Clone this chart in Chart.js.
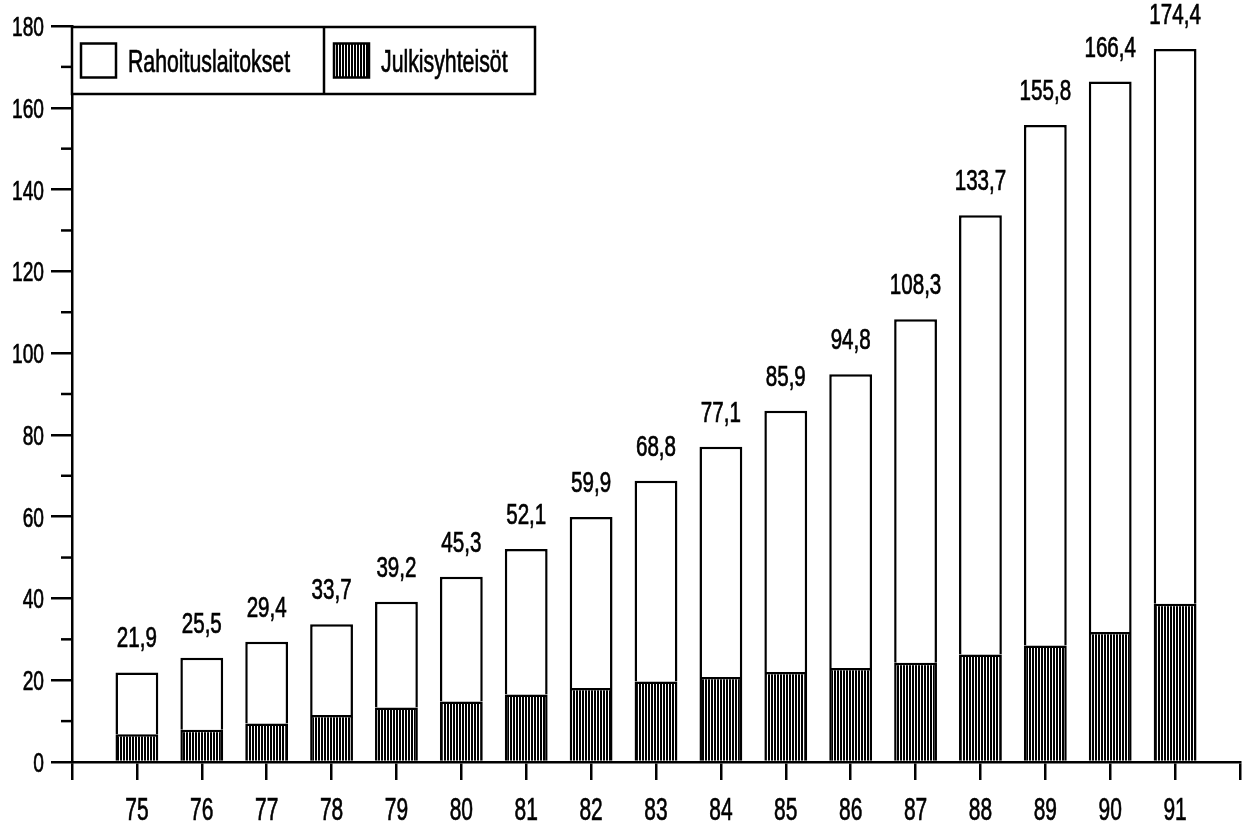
<!DOCTYPE html>
<html>
<head>
<meta charset="utf-8">
<script src="https://cdn.jsdelivr.net/npm/chart.js@4/dist/chart.umd.min.js"></script>
<style>
  body { margin: 0; background: #fff; }
  canvas { display: block; }
</style>
</head>
<body>
<canvas id="lainaChart" width="1243" height="827"></canvas>
<script>
const years = ["75", "76", "77", "78", "79", "80", "81", "82", "83", "84", "85", "86", "87", "88", "89", "90", "91"];
const totals = [21.9, 25.5, 29.4, 33.7, 39.2, 45.3, 52.1, 59.9, 68.8, 77.1, 85.9, 94.8, 108.3, 133.7, 155.8, 166.4, 174.4];
const julkisyhteisot = [6.8, 7.9, 9.4, 11.5, 13.3, 14.8, 16.5, 18.1, 19.7, 20.8, 22.0, 23.0, 24.3, 26.3, 28.5, 31.8, 38.7];
const rahoituslaitokset = [15.1, 17.6, 20.0, 22.2, 25.9, 30.5, 35.6, 41.8, 49.1, 56.3, 63.9, 71.8, 84.0, 107.4, 127.3, 134.6, 135.7];

const FONT = "'Liberation Sans', Arial, sans-serif";

// empty slots at both ends so the axis runs from "74" to "92"
const labels = [""].concat(years, [""]);
const pad = (arr) => [null].concat(arr, [null]);

// the original uses a tall condensed face, so squeeze normal text sideways
function condensedText(c, text, x, y, size, squeeze, align) {
  c.save();
  c.font = size + "px " + FONT;
  c.fillStyle = "#000";
  c.strokeStyle = "#000";
  c.lineWidth = 0.7;
  c.textAlign = align;
  c.textBaseline = "alphabetic";
  c.translate(x, y);
  c.scale(squeeze, 1);
  c.fillText(text, 0, 0);
  c.strokeText(text, 0, 0);
  c.restore();
}

// vertical hatch used for Julkisyhteisöt
function makeHatch() {
  const c = document.createElement("canvas");
  c.width = 3;
  c.height = 4;
  const g = c.getContext("2d");
  g.fillStyle = "#fff";
  g.fillRect(0, 0, 3, 4);
  g.fillStyle = "#000";
  g.fillRect(0, 0, 2, 4);
  return g.createPattern(c, "repeat");
}

const ctx = document.getElementById("lainaChart").getContext("2d");
const hatch = makeHatch();

const whiteBg = {
  id: "whiteBg",
  beforeDraw(chart) {
    const c = chart.ctx;
    c.save();
    c.fillStyle = "#fff";
    c.fillRect(0, 0, chart.width, chart.height);
    c.restore();
  },
};

// tick labels and the short in-between ticks
const axisText = {
  id: "axisText",
  afterDraw(chart) {
    const x = chart.scales.x;
    const y = chart.scales.y;
    const c = chart.ctx;
    c.save();
    c.strokeStyle = "#000";
    c.lineWidth = 2.5;
    for (let v = 10; v < 180; v += 20) {
      const py = y.getPixelForValue(v);
      c.beginPath();
      c.moveTo(y.right - 11, py);
      c.lineTo(y.right, py);
      c.stroke();
    }
    c.restore();
    y.ticks.forEach((t) => {
      condensedText(c, String(t.value), y.right - 28, y.getPixelForValue(t.value) + 10, 28, 0.685, "right");
    });
    labels.forEach((lab, i) => {
      if (!lab) return;
      condensedText(c, lab, x.getPixelForTick(i), x.top + 58, 32, 0.655, "center");
    });
  },
};

// total value above each bar, with a decimal comma
const totalLabels = {
  id: "totalLabels",
  afterDatasetsDraw(chart) {
    const meta = chart.getDatasetMeta(1);
    totals.forEach((t, i) => {
      const el = meta.data[i + 1];
      condensedText(chart.ctx, t.toFixed(1).replace(".", ","), el.x, el.y - 25, 29, 0.71, "center");
    });
  },
};

// boxed legend in the top left corner
const boxLegend = {
  id: "boxLegend",
  afterDraw(chart) {
    const ca = chart.chartArea;
    const c = chart.ctx;
    const cells = [252, 211];
    const h = 67;
    const order = [1, 0];
    const top = ca.top + 1;
    c.save();
    c.lineWidth = 2.5;
    c.strokeStyle = "#000";
    c.fillStyle = "#fff";
    const total = cells[0] + cells[1];
    c.fillRect(ca.left, top, total, h);
    c.strokeRect(ca.left, top, total, h);
    c.beginPath();
    c.moveTo(ca.left + cells[0], top);
    c.lineTo(ca.left + cells[0], top + h);
    c.stroke();
    let x = ca.left;
    order.forEach((di, k) => {
      const ds = chart.data.datasets[di];
      const sx = x + 9 + k;
      const sy = top + h / 2 - 17;
      c.fillStyle = ds.backgroundColor;
      c.fillRect(sx, sy, 35, 34);
      c.strokeRect(sx, sy, 35, 34);
      condensedText(c, ds.label, sx + 47, top + h / 2 + 11.5, 32, 0.665, "left");
      x += cells[k];
    });
    c.restore();
  },
};

new Chart(ctx, {
  type: "bar",
  data: {
    labels: labels,
    datasets: [
      {
        label: "Julkisyhteisöt",
        data: pad(julkisyhteisot),
        backgroundColor: hatch,
        borderColor: "#000",
        borderWidth: 2.5,
        borderSkipped: "start",
        categoryPercentage: 1,
        barPercentage: 0.66,
      },
      {
        label: "Rahoituslaitokset",
        data: pad(rahoituslaitokset),
        backgroundColor: "#fff",
        borderColor: "#000",
        borderWidth: 2.5,
        borderSkipped: "start",
        categoryPercentage: 1,
        barPercentage: 0.66,
      },
    ],
  },
  options: {
    responsive: false,
    animation: false,
    layout: { padding: { top: 26, right: 3, left: 0, bottom: 0 } },
    plugins: {
      legend: { display: false },
      tooltip: { enabled: false },
    },
    scales: {
      x: {
        stacked: true,
        offset: false,
        grid: {
          offset: false,
          drawOnChartArea: false,
          drawTicks: true,
          tickLength: 18,
          color: "#000",
          lineWidth: 2.5,
        },
        border: { display: true, color: "#000", width: 2.5 },
        ticks: { display: false, autoSkip: false },
        afterFit(scale) {
          scale.height = 65;
        },
      },
      y: {
        stacked: true,
        min: 0,
        max: 180,
        grid: {
          drawOnChartArea: false,
          drawTicks: true,
          tickLength: 21,
          color: "#000",
          lineWidth: 2.5,
        },
        border: { display: true, color: "#000", width: 2.5 },
        ticks: { display: false, stepSize: 20 },
        afterFit(scale) {
          scale.width = 72;
        },
      },
    },
  },
  plugins: [whiteBg, totalLabels, axisText, boxLegend],
});
</script>
</body>
</html>
